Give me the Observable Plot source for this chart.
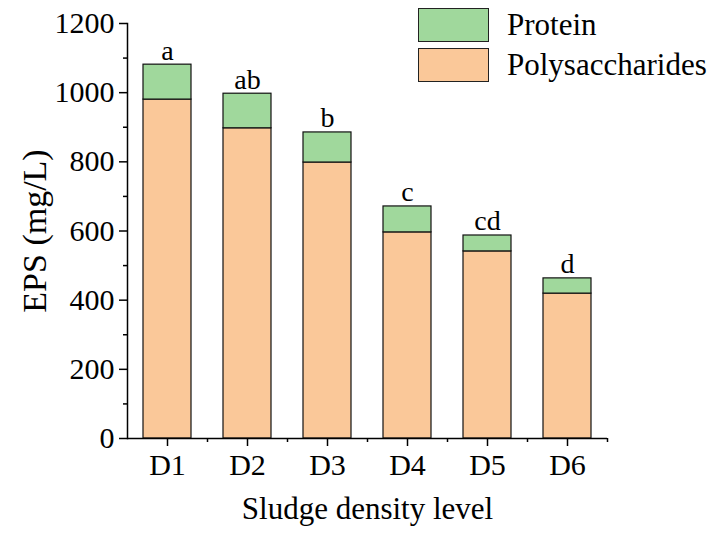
<!DOCTYPE html>
<html>
<head>
<meta charset="utf-8">
<script src="https://cdn.jsdelivr.net/npm/d3@7"></script>
<script src="https://cdn.jsdelivr.net/npm/@observablehq/plot@0.6"></script>
<style>
  body { margin: 0; background: #fff; }
  #wrap { position: relative; width: 715px; height: 540px; font-family: "Liberation Serif", "Times New Roman", serif; }
  .legend { position: absolute; left: 418px; font-size: 31px; color: #000; }
  .item { position: absolute; left: 0; display: flex; align-items: center; white-space: nowrap; }
  .sw { width: 71px; height: 34px; border: 1px solid #222; box-sizing: border-box; margin-right: 18px; }
</style>
</head>
<body>
<div id="wrap"></div>
<script>
const categories = ["D1", "D2", "D3", "D4", "D5", "D6"];
const polysaccharides = [980, 897, 798, 596, 541, 419];
const protein = [101, 100, 87, 75, 46, 44];
const letters = ["a", "ab", "b", "c", "cd", "d"];
const yTicks = [0, 200, 400, 600, 800, 1000, 1200];
const yMinorTicks = [100, 300, 500, 700, 900, 1100];
const series = ["Polysaccharides", "Protein"];
const colors = ["#fac899", "#a0d89c"];

const rows = [];
categories.forEach((c, i) => {
  rows.push({cat: c, type: "Polysaccharides", value: polysaccharides[i]});
  rows.push({cat: c, type: "Protein", value: protein[i]});
});
const totals = categories.map((c, i) => ({cat: c, total: polysaccharides[i] + protein[i], letter: letters[i]}));

const font = "Liberation Serif";

const chart = Plot.plot({
  width: 715,
  height: 540,
  marginLeft: 127,
  marginRight: 108,
  marginTop: 23,
  marginBottom: 102,
  style: {fontFamily: font, color: "#000", background: "#fff", overflow: "visible"},
  x: {domain: categories, paddingInner: 0.4, paddingOuter: 0.2, label: null},
  y: {domain: [0, 1200], label: null},
  color: {domain: series, range: colors},
  marks: [
    Plot.barY(rows, Plot.stackY({order: series}, {x: "cat", y: "value", fill: "type", stroke: "#111", strokeWidth: 1.2})),
    Plot.text(totals, {x: "cat", y: "total", text: "letter", lineAnchor: "bottom", dy: -5, fontSize: 28, fontFamily: font, fill: "#000"}),
    Plot.axisY({ticks: yTicks, tickFormat: d3.format("d"), tickSize: 8, tickPadding: 5, fontSize: 30, fontFamily: font, label: null, stroke: "#000", strokeWidth: 1.5}),
    Plot.axisY({ticks: yMinorTicks, tickSize: 4, tickFormat: () => "", label: null, stroke: "#000", strokeWidth: 1.5}),
    Plot.axisX({tickSize: 8, tickPadding: 7, fontSize: 30, fontFamily: font, label: null, stroke: "#000", strokeWidth: 1.5}),
    Plot.axisX({tickSize: 4, dx: 40, tickFormat: () => "", label: null, stroke: "#000", strokeWidth: 1.5}),
    Plot.ruleY([0], {stroke: "#000", strokeWidth: 1.5}),
    Plot.frame({anchor: "left", stroke: "#000", strokeWidth: 1.5}),
    Plot.text(["EPS (mg/L)"], {frameAnchor: "left", textAnchor: "middle", dx: -92, rotate: -90, fontSize: 34, fontFamily: font, fill: "#000"}),
    Plot.text(["Sludge density level"], {frameAnchor: "bottom", textAnchor: "middle", dy: 80, fontSize: 31, fontFamily: font, fill: "#000"})
  ]
});

d3.select(chart).selectAll("text")
  .style("font-family", '"Liberation Serif", "Times New Roman", serif')
  .style("font-variant", "normal");

const wrap = document.getElementById("wrap");
wrap.appendChild(chart);

const legend = document.createElement("div");
legend.className = "legend";
legend.style.top = "0px";
const legendItems = [["Protein", colors[1], 7], ["Polysaccharides", colors[0], 47]];
legendItems.forEach(([name, col, top]) => {
  const it = document.createElement("div");
  it.className = "item";
  it.style.top = top + "px";
  const sw = document.createElement("div");
  sw.className = "sw";
  sw.style.background = col;
  const tx = document.createElement("span");
  tx.textContent = name;
  it.appendChild(sw);
  it.appendChild(tx);
  legend.appendChild(it);
});
wrap.appendChild(legend);
</script>
</body>
</html>
